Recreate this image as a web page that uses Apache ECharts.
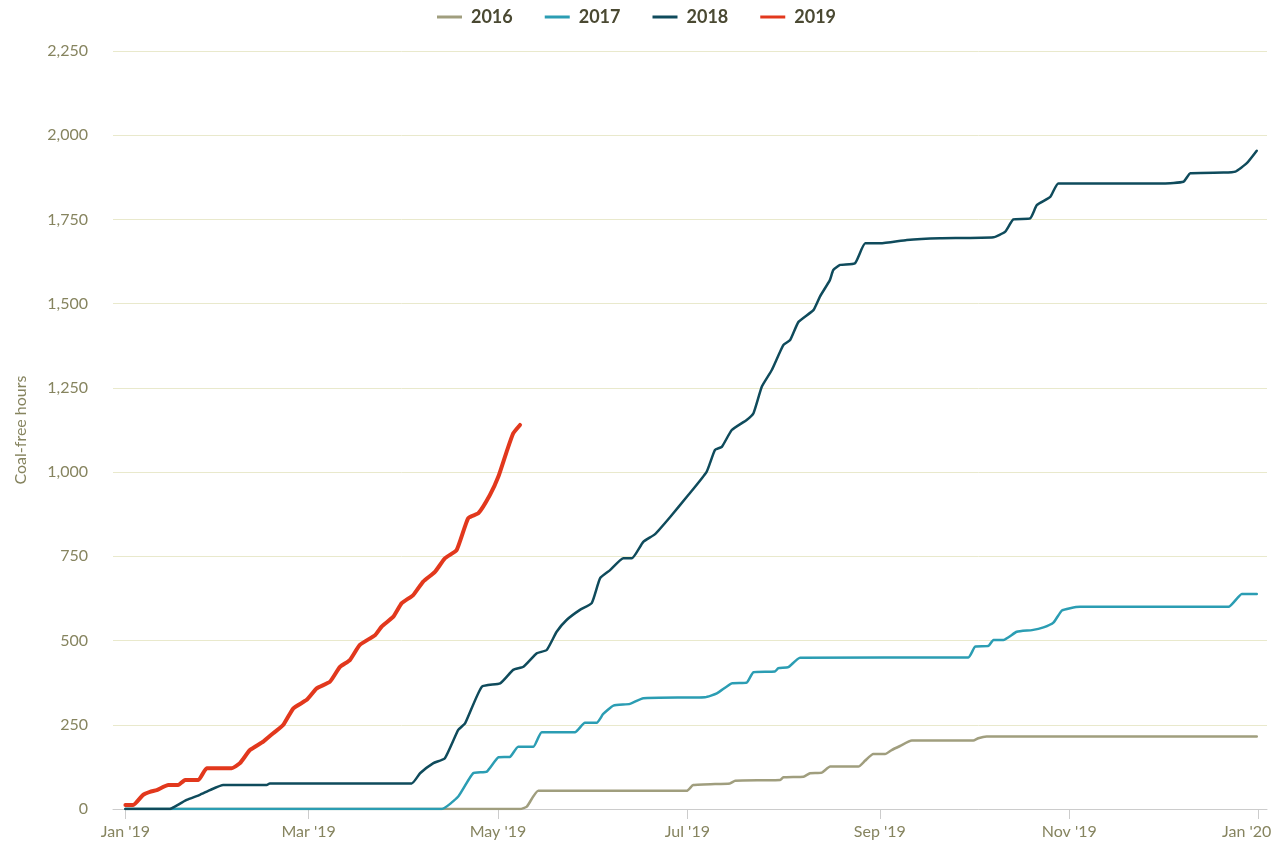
<!DOCTYPE html>
<html>
<head>
<meta charset="utf-8">
<title>Coal-free hours</title>
<script src="https://cdn.jsdelivr.net/npm/echarts@6/dist/echarts.min.js"></script>
<style>
  html, body { margin: 0; padding: 0; background: #fff; }
  #chart { width: 1273px; height: 847px; }
</style>
</head>
<body>
<div id="chart"></div>
<script>
// x values are days since 1 Jan (all years drawn on one calendar), y = cumulative coal-free hours
const years = ['2016', '2017', '2018', '2019'];
const colors = ['#a09e7e', '#2b9db3', '#0f4b5c', '#e2381d'];

const days2016 = [0, 127.1, 129.3, 133, 180.8, 182.9, 194.7, 196.4, 210.9, 211.9, 218.4, 220.5, 224.3, 227, 236.1, 238.2, 240.9, 244.7, 246.8, 249.5, 253.3, 273.1, 274.7, 277.4, 364.4];
const hours2016 = [0, 0, 7, 54, 54, 71, 76, 84, 86, 94, 96, 106, 108, 126, 126, 143, 163, 163, 175, 187, 203, 203, 210, 215, 215];

const days2017 = [0, 101.9, 107.2, 112, 116.4, 120.1, 123.9, 126.5, 131.4, 134.1, 144.8, 148, 151.8, 153.9, 157.2, 162.5, 166.8, 186.7, 190.5, 195.3, 200.1, 202.3, 209.2, 210.3, 213.5, 217.3, 271.5, 273.7, 278, 279.6, 282.8, 287.1, 292, 295.7, 298.9, 301.6, 304.3, 307.5, 355.3, 359.6, 364.4];
const hours2017 = [0, 0, 37, 106, 111, 153, 155, 185, 185, 228, 228, 256, 256, 282, 307, 312, 329, 332, 343, 373, 375, 406, 408, 418, 421, 449, 450, 482, 484, 502, 502, 526, 531, 539, 553, 589, 596, 600, 600, 638, 638];

const days2018 = [0, 14.3, 15.9, 19.7, 24, 27.2, 31.5, 45.5, 46.5, 92.2, 94.9, 99.2, 102.9, 107.2, 109.4, 114.8, 120.7, 124.9, 128.2, 132.5, 135.7, 138.9, 142.1, 146.4, 150.2, 152.9, 156.1, 160.4, 163.1, 166.8, 170.6, 175.4, 181.3, 187.2, 189.9, 192.1, 195.3, 200.1, 202.3, 205, 208.2, 211.9, 214.1, 216.8, 221.6, 223.7, 226.9, 228, 230.2, 235, 238.3, 243.1, 251.7, 262.4, 279.6, 283.4, 286, 291.4, 293.6, 297.9, 300.5, 334.3, 340.8, 343, 353.7, 357.5, 361.2, 364.4];
const hours2018 = [0, 0, 7, 27, 42, 56, 71, 71, 76, 76, 106, 136, 151, 235, 254, 363, 373, 413, 422, 462, 472, 526, 561, 591, 611, 685, 709, 744, 744, 793, 816, 866, 932, 1001, 1066, 1075, 1125, 1155, 1175, 1254, 1303, 1377, 1392, 1446, 1481, 1521, 1570, 1600, 1615, 1620, 1679, 1679, 1689, 1694, 1697, 1714, 1750, 1753, 1793, 1817, 1857, 1857, 1862, 1887, 1889, 1892, 1917, 1954];

const days2019 = [0, 2.5, 5.7, 7.9, 10.1, 13.8, 17, 19.2, 23.5, 26.2, 34.2, 36.9, 40.1, 44.4, 47.6, 50.8, 54.1, 58.4, 61.6, 65.9, 69.1, 72.3, 75.5, 80.4, 82.5, 86.3, 89, 92.7, 95.9, 99.7, 102.9, 106.7, 110.4, 113.7, 117.4, 120.1, 122.8, 124.9, 127.1];
const hours2019 = [12, 12, 42, 51, 56, 71, 71, 86, 86, 121, 121, 136, 175, 200, 225, 249, 299, 324, 358, 378, 422, 442, 487, 516, 541, 571, 611, 635, 675, 704, 744, 769, 863, 878, 932, 986, 1061, 1115, 1140];

// month ticks (day of year) and their labels
const tickDays = [0, 59, 120, 181, 243, 304, 365];
const tickLabels = ["Jan '19", "Mar '19", "May '19", "Jul '19", "Sep '19", "Nov '19", "Jan '20"];

const allDays = [days2016, days2017, days2018, days2019];
const allHours = [hours2016, hours2017, hours2018, hours2019];
const widths = [2.5, 2.5, 2.5, 4];

const labelColor = '#86845f';
const fontFamily = 'Lato, "Open Sans", sans-serif';

const chart = echarts.init(document.getElementById('chart'));

const series = years.map((name, i) => ({
  name: name,
  type: 'line',
  data: allDays[i].map((d, k) => [d, allHours[i][k]]),
  showSymbol: false,
  smooth: 0.15,
  lineStyle: { color: colors[i], width: widths[i], cap: 'round', join: 'round' },
  itemStyle: { color: colors[i] },
  z: 2 + i
}));

chart.setOption({
  animation: false,
  backgroundColor: '#fff',
  textStyle: { fontFamily: fontFamily },
  legend: {
    top: 3,
    left: 'center',
    icon: 'rect',
    itemWidth: 25,
    itemHeight: 3,
    itemGap: 32,
    data: years,
    textStyle: {
      color: '#4a4932',
      fontWeight: 'bold',
      fontSize: 18,
      fontFamily: fontFamily,
      padding: [0, 0, 0, 4]
    }
  },
  grid: { left: 113, right: 6, top: 51, bottom: 38, outerBoundsMode: 'none', containLabel: false },
  xAxis: {
    type: 'value',
    min: -4,
    max: 367.7,
    splitLine: { show: false },
    axisLine: { show: true, lineStyle: { color: '#cccccc', width: 1 } },
    axisTick: { show: true, length: 10, lineStyle: { color: '#cccccc' }, customValues: tickDays },
    axisLabel: {
      customValues: tickDays,
      color: labelColor,
      fontSize: 16,
      margin: 15,
      formatter: (v) => {
        const idx = tickDays.indexOf(Math.round(v));
        if (idx < 0) return '';
        // last label is pushed left so it stays inside the canvas
        return idx === tickDays.length - 1 ? '{last|' + tickLabels[idx] + '}' : tickLabels[idx];
      },
      rich: {
        last: { color: labelColor, fontSize: 16, fontFamily: fontFamily, padding: [0, 24, 0, 0] }
      }
    }
  },
  yAxis: {
    type: 'value',
    min: 0,
    max: 2250,
    interval: 250,
    name: 'Coal-free hours',
    nameLocation: 'middle',
    nameGap: 84,
    nameTextStyle: { color: labelColor, fontSize: 16, fontFamily: fontFamily },
    axisLine: { show: false },
    axisTick: { show: false },
    axisLabel: {
      color: labelColor,
      fontSize: 16,
      margin: 25,
      formatter: (v) => v.toLocaleString('en-US')
    },
    splitLine: { lineStyle: { color: '#e9e9cc', width: 1 } }
  },
  series: series
});
</script>
</body>
</html>
